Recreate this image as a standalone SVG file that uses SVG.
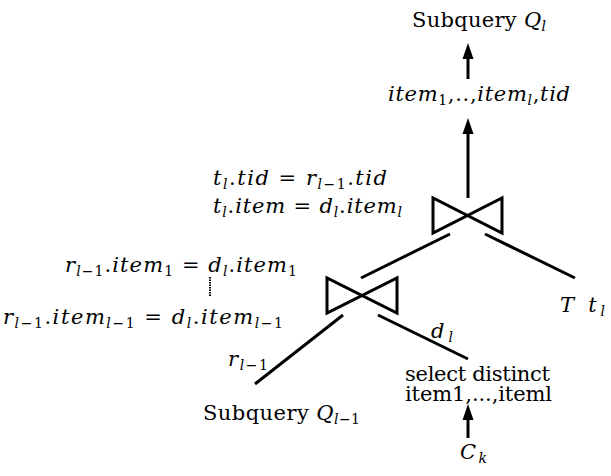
<svg xmlns="http://www.w3.org/2000/svg" width="611" height="476" viewBox="0 0 611 476">
<style>
.t{font-family:"DejaVu Serif","Liberation Serif",serif;font-size:21px;fill:#000}
.i{font-style:italic}
.s{font-size:14px}
.ln{stroke:#000;stroke-width:3;fill:none}
.bt{stroke:#000;stroke-width:3;fill:none;stroke-linejoin:miter}
</style>
<defs>
<marker id="ah" markerUnits="userSpaceOnUse" markerWidth="17" markerHeight="12" refX="0" refY="6" orient="auto">
<path d="M0,0.5 L16,6 L0,11.5 Z" fill="#000"/>
</marker>
</defs>
<rect width="611" height="476" fill="#fff"/>

<g id="connectors">
<line class="ln" x1="468" y1="79" x2="468" y2="59" marker-end="url(#ah)"/>
<line class="ln" x1="468" y1="198" x2="468" y2="134" marker-end="url(#ah)"/>
<line class="ln" x1="468" y1="438" x2="468" y2="420" marker-end="url(#ah)"/>
<line class="ln" x1="450" y1="234" x2="361" y2="278"/>
<line class="ln" x1="485" y1="234" x2="575" y2="278"/>
<line class="ln" x1="343" y1="315" x2="255" y2="384"/>
<line class="ln" x1="378" y1="315" x2="468" y2="359"/>
<line x1="210" y1="277" x2="210" y2="297" stroke="#000" stroke-width="2" stroke-dasharray="1.5 1"/>
</g>

<g id="subquery-ql">
<text class="t" x="412" y="27" textLength="134">Subquery <tspan class="i">Q</tspan><tspan class="s i" dy="4">l</tspan></text>
</g>

<g id="projection">
<text class="t" x="388" y="101" textLength="182"><tspan class="i">item</tspan><tspan class="s" dy="4">1</tspan><tspan dy="-4">,</tspan><tspan>..,</tspan><tspan class="i">item</tspan><tspan class="s i" dy="4">l</tspan><tspan dy="-4">,</tspan><tspan class="i">tid</tspan></text>
</g>

<g id="join-upper">
<path class="bt" d="M433,198 V233 L502,198 V233 Z"/>
<text class="t" x="213" y="185" textLength="174"><tspan class="i">t</tspan><tspan class="s i" dy="4">l</tspan><tspan dy="-4">.</tspan><tspan class="i">tid</tspan> = <tspan class="i">r</tspan><tspan class="s" dy="4"><tspan class="i">l</tspan>−1</tspan><tspan dy="-4">.</tspan><tspan class="i">tid</tspan></text>
<text class="t" x="213" y="213" textLength="189"><tspan class="i">t</tspan><tspan class="s i" dy="4">l</tspan><tspan dy="-4">.</tspan><tspan class="i">item</tspan> = <tspan class="i">d</tspan><tspan class="s i" dy="4">l</tspan><tspan dy="-4">.</tspan><tspan class="i">item</tspan><tspan class="s i" dy="4">l</tspan></text>
</g>

<g id="join-lower">
<path class="bt" d="M327,278 V313 L397,278 V313 Z"/>
<text class="t" x="65" y="272" textLength="232"><tspan class="i">r</tspan><tspan class="s" dy="4"><tspan class="i">l</tspan>−1</tspan><tspan dy="-4">.</tspan><tspan class="i">item</tspan><tspan class="s" dy="4">1</tspan><tspan dy="-4"> = </tspan><tspan class="i">d</tspan><tspan class="s i" dy="4">l</tspan><tspan dy="-4">.</tspan><tspan class="i">item</tspan><tspan class="s" dy="4">1</tspan></text>
<text class="t" x="3" y="324" textLength="280"><tspan class="i">r</tspan><tspan class="s" dy="4"><tspan class="i">l</tspan>−1</tspan><tspan dy="-4">.</tspan><tspan class="i">item</tspan><tspan class="s" dy="4"><tspan class="i">l</tspan>−1</tspan><tspan dy="-4"> = </tspan><tspan class="i">d</tspan><tspan class="s i" dy="4">l</tspan><tspan dy="-4">.</tspan><tspan class="i">item</tspan><tspan class="s" dy="4"><tspan class="i">l</tspan>−1</tspan></text>
</g>

<g id="label-r">
<text class="t" x="228" y="366" textLength="40"><tspan class="i">r</tspan><tspan class="s" dy="4"><tspan class="i">l</tspan>−1</tspan></text>
</g>

<g id="label-d">
<text class="t" x="431" y="338" textLength="22"><tspan class="i">d</tspan><tspan class="s i" dy="4">l</tspan></text>
</g>

<g id="table-t">
<text class="t i" x="560" y="312" textLength="45">T t<tspan class="s" dy="4">l</tspan></text>
</g>

<g id="subquery-ql1">
<text class="t" x="203" y="420" textLength="157">Subquery <tspan class="i">Q</tspan><tspan class="s" dy="4"><tspan class="i">l</tspan>−1</tspan></text>
</g>

<g id="select-distinct">
<text class="t" x="405" y="381" font-size="16.5" textLength="145">select distinct</text>
<text class="t" x="405" y="401" font-size="16.5" textLength="147">item1,...,iteml</text>
</g>

<g id="ck">
<text class="t" x="460" y="459" textLength="27"><tspan class="i">C</tspan><tspan class="s i" dy="4">k</tspan></text>
</g>
</svg>
